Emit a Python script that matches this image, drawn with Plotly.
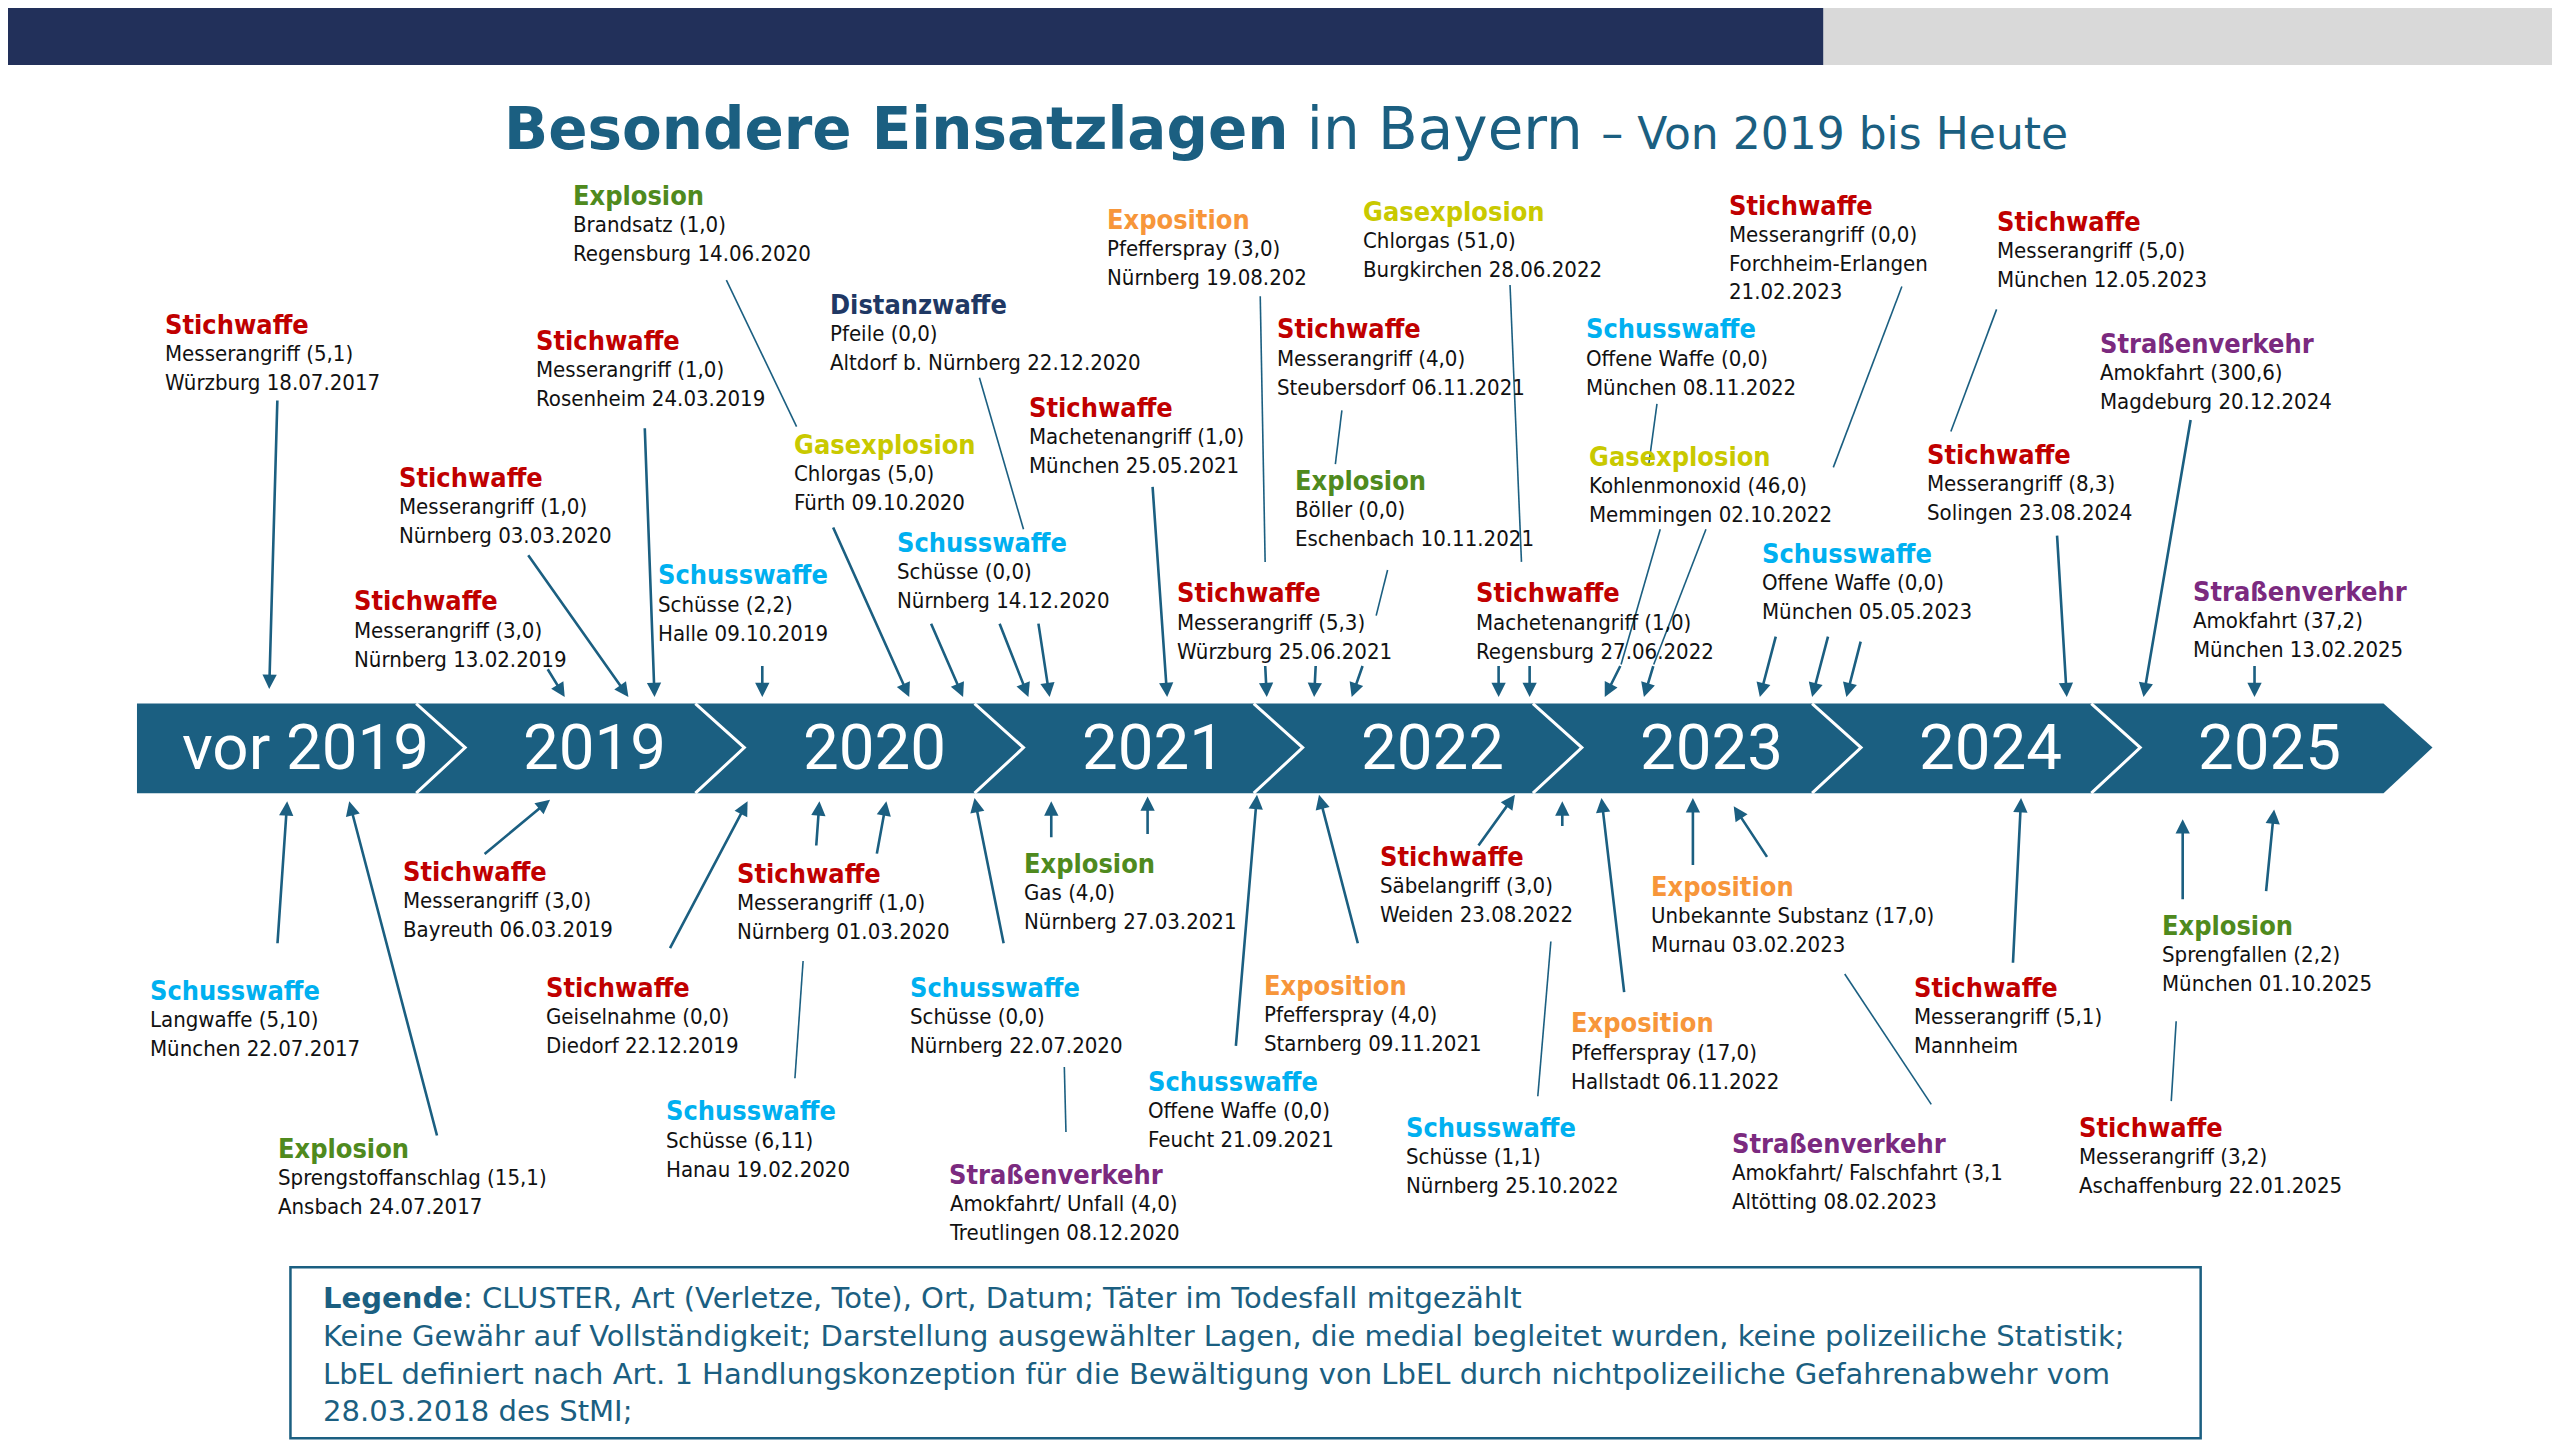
import plotly.graph_objects as go

# picture coordinates are in a 1568 x 887 frame, scaled to the 2560 x 1445 page
W, H = 1568, 887
S = 2560 / W

years = ["vor 2019", "2019", "2020", "2021", "2022", "2023", "2024", "2025"]

colors = {
    "Stichwaffe": "#c00000",
    "Schusswaffe": "#00b0f0",
    "Explosion": "#4f8a1e",
    "Gasexplosion": "#c9c900",
    "Exposition": "#f7963a",
    "Distanzwaffe": "#1f3864",
    "Straßenverkehr": "#7b2a7f",
}

# events: cluster, details
categories = [
    "Stichwaffe", "Explosion", "Stichwaffe", "Stichwaffe", "Stichwaffe", "Schusswaffe",
    "Distanzwaffe", "Gasexplosion", "Schusswaffe", "Exposition", "Stichwaffe",
    "Gasexplosion", "Stichwaffe", "Explosion", "Stichwaffe", "Schusswaffe",
    "Stichwaffe", "Stichwaffe", "Straßenverkehr", "Gasexplosion", "Stichwaffe",
    "Stichwaffe", "Schusswaffe", "Straßenverkehr",
    "Schusswaffe", "Explosion", "Stichwaffe", "Stichwaffe", "Stichwaffe", "Schusswaffe",
    "Schusswaffe", "Straßenverkehr", "Explosion", "Exposition", "Schusswaffe",
    "Stichwaffe", "Schusswaffe", "Exposition", "Exposition", "Straßenverkehr",
    "Stichwaffe", "Explosion", "Stichwaffe",
]
details = [
    ["Messerangriff (5,1)", "Würzburg 18.07.2017"],
    ["Brandsatz (1,0)", "Regensburg 14.06.2020"],
    ["Messerangriff (1,0)", "Rosenheim 24.03.2019"],
    ["Messerangriff (1,0)", "Nürnberg 03.03.2020"],
    ["Messerangriff (3,0)", "Nürnberg 13.02.2019"],
    ["Schüsse (2,2)", "Halle 09.10.2019"],
    ["Pfeile (0,0)", "Altdorf b. Nürnberg 22.12.2020"],
    ["Chlorgas (5,0)", "Fürth 09.10.2020"],
    ["Schüsse (0,0)", "Nürnberg 14.12.2020"],
    ["Pfefferspray (3,0)", "Nürnberg 19.08.202"],
    ["Machetenangriff (1,0)", "München 25.05.2021"],
    ["Chlorgas (51,0)", "Burgkirchen 28.06.2022"],
    ["Messerangriff (4,0)", "Steubersdorf 06.11.2021"],
    ["Böller (0,0)", "Eschenbach 10.11.2021"],
    ["Messerangriff (5,3)", "Würzburg 25.06.2021"],
    ["Offene Waffe (0,0)", "München 08.11.2022"],
    ["Messerangriff (0,0)", "Forchheim-Erlangen", "21.02.2023"],
    ["Messerangriff (5,0)", "München 12.05.2023"],
    ["Amokfahrt (300,6)", "Magdeburg 20.12.2024"],
    ["Kohlenmonoxid (46,0)", "Memmingen 02.10.2022"],
    ["Machetenangriff (1,0)", "Regensburg 27.06.2022"],
    ["Messerangriff (8,3)", "Solingen 23.08.2024"],
    ["Offene Waffe (0,0)", "München 05.05.2023"],
    ["Amokfahrt (37,2)", "München 13.02.2025"],
    ["Langwaffe (5,10)", "München 22.07.2017"],
    ["Sprengstoffanschlag (15,1)", "Ansbach 24.07.2017"],
    ["Messerangriff (3,0)", "Bayreuth 06.03.2019"],
    ["Geiselnahme (0,0)", "Diedorf 22.12.2019"],
    ["Messerangriff (1,0)", "Nürnberg 01.03.2020"],
    ["Schüsse (6,11)", "Hanau 19.02.2020"],
    ["Schüsse (0,0)", "Nürnberg 22.07.2020"],
    ["Amokfahrt/ Unfall (4,0)", "Treutlingen 08.12.2020"],
    ["Gas (4,0)", "Nürnberg 27.03.2021"],
    ["Pfefferspray (4,0)", "Starnberg 09.11.2021"],
    ["Offene Waffe (0,0)", "Feucht 21.09.2021"],
    ["Säbelangriff (3,0)", "Weiden 23.08.2022"],
    ["Schüsse (1,1)", "Nürnberg 25.10.2022"],
    ["Pfefferspray (17,0)", "Hallstadt 06.11.2022"],
    ["Unbekannte Substanz (17,0)", "Murnau 03.02.2023"],
    ["Amokfahrt/ Falschfahrt (3,1", "Altötting 08.02.2023"],
    ["Messerangriff (5,1)", "Mannheim"],
    ["Sprengfallen (2,2)", "München 01.10.2025"],
    ["Messerangriff (3,2)", "Aschaffenburg 22.01.2025"],
]

legend_lines = [
    "<b>Legende</b>: CLUSTER, Art (Verletze, Tote), Ort, Datum; Täter im Todesfall mitgezählt",
    "Keine Gewähr auf Vollständigkeit; Darstellung ausgewählter Lagen, die medial begleitet wurden, keine polizeiliche Statistik;",
    "LbEL definiert nach Art. 1 Handlungskonzeption für die Bewältigung von LbEL durch nichtpolizeiliche Gefahrenabwehr vom",
    "28.03.2018 des StMI;",
]

# layout: label anchor (left x, title y) per event
label_pos = [
    (100, 199), (350, 120), (327, 209), (243, 293), (216, 369), (402, 353),
    (507, 187), (485, 273), (548, 333), (677, 135), (629, 250),
    (834, 130), (781, 202), (792, 295), (720, 364), (970, 202),
    (1058, 126), (1222, 136), (1285, 211), (972, 280), (903, 364),
    (1179, 279), (1078, 340), (1342, 363),
    (91, 608), (169, 705), (246, 535), (333, 606), (450, 536), (407, 682),
    (556, 606), (580, 721), (626, 530), (773, 605), (702, 664),
    (844, 526), (860, 692), (961, 628), (1010, 544), (1060, 702),
    (1171, 606), (1323, 568), (1272, 692),
]
# arrows: (tail x, tail y, head x, head y)
arrows = [
    (170, 245, 165, 423), (395, 262, 401, 428), (323, 340, 385, 428), (335, 410, 346, 428),
    (467, 408, 467, 428), (510, 323, 557, 428), (570, 382, 590, 428), (612, 382, 630, 428),
    (636, 382, 643, 428), (706, 298, 715, 428), (775, 408, 776, 428), (806, 408, 805, 428),
    (835, 408, 828, 428), (918, 408, 918, 428), (937, 408, 937, 428), (993, 408, 983, 428),
    (1013, 408, 1007, 428), (1088, 390, 1078, 428), (1120, 390, 1110, 428),
    (1140, 393, 1131, 428), (1260, 328, 1266, 428), (1342, 257, 1313, 428),
    (1381, 408, 1381, 428),
    (170, 580, 176, 492), (268, 698, 214, 492), (296, 525, 337, 491), (410, 583, 458, 492),
    (500, 520, 502, 492), (537, 525, 543, 492), (615, 580, 597, 490), (644, 515, 644, 492),
    (703, 513, 703, 489), (832, 580, 808, 488), (757, 643, 770, 488), (905, 520, 928, 488),
    (957, 508, 957, 492), (995, 610, 981, 490), (1037, 532, 1037, 490), (1083, 527, 1062, 495),
    (1233, 592, 1238, 490), (1337, 553, 1337, 503), (1388, 548, 1393, 497),
]
# plain connector lines
connectors = [
    (445, 172, 488, 262), (600, 232, 627, 325), (772, 182, 775, 345), (925, 175, 932, 345),
    (822, 252, 818, 285), (850, 350, 843, 378), (1015, 248, 1010, 285), (1165, 176, 1123, 287),
    (1223, 190, 1195, 265), (1017, 325, 993, 408), (1045, 325, 1013, 408),
    (492, 590, 487, 662), (653, 695, 652, 655), (942, 673, 950, 578), (1183, 678, 1130, 598),
    (1330, 676, 1333, 627),
]

BLUE = "#1b5f81"
FONT = "DejaVu Sans Condensed, Liberation Sans Narrow, Roboto"

fig = go.Figure()
shapes = []
ann = []

# header bars
shapes.append(dict(type="rect", x0=-10, x1=1117, y0=-10, y1=40, fillcolor="#22305a", line_width=0))
shapes.append(dict(type="rect", x0=1117, x1=W + 10, y0=-10, y1=40, fillcolor="#d9d9d9", line_width=0))

# timeline band
shapes.append(dict(type="path", path="M 84 432 L 1460 432 L 1490 459 L 1460 487 L 84 487 Z",
                   fillcolor=BLUE, line_width=0))
seg = 171
for i in range(1, len(years)):
    x = 84 + i * seg
    shapes.append(dict(type="path", path=f"M {x} 432 L {x+30} 459 L {x} 487",
                       line=dict(color="white", width=3)))
for i, y in enumerate(years):
    cx = 187 if i == 0 else 84 + seg * (i + 0.64)
    ann.append(dict(x=cx, y=459, text=y, showarrow=False,
                    font=dict(family="Roboto", size=39 * S, color="white")))

# title
ann.append(dict(x=788, y=79, showarrow=False,
                text="<b>Besondere Einsatzlagen</b> in Bayern <span style='font-size:%dpx'>– Von 2019 bis Heute</span>" % int(27.5 * S),
                font=dict(family="DejaVu Sans", size=35.5 * S, color=BLUE)))

for (x0, y0, x1, y1) in connectors:
    shapes.append(dict(type="line", x0=x0, y0=y0, x1=x1, y1=y1, line=dict(color=BLUE, width=1.6)))

for (tx, ty, hx, hy) in arrows:
    ann.append(dict(x=hx, y=hy, ax=tx, ay=ty, axref="x", ayref="y", text="", showarrow=True,
                    arrowhead=2, arrowsize=1.1, arrowwidth=2.6, arrowcolor=BLUE))

for cat, det, (x, y) in zip(categories, details, label_pos):
    ann.append(dict(x=x, y=y, xanchor="left", yanchor="middle", showarrow=False,
                    text="<b>%s</b>" % cat, font=dict(family=FONT, size=16.5 * S, color=colors[cat])))
    ann.append(dict(x=x, y=y + 9, xanchor="left", yanchor="top", showarrow=False, align="left",
                    text="<br>".join(det), font=dict(family=FONT, size=13.5 * S, color="#111111")))

# legend box
shapes.append(dict(type="rect", x0=178, x1=1348, y0=778, y1=883, line=dict(color=BLUE, width=2.5)))
ann.append(dict(x=197, y=785, xanchor="left", yanchor="top", showarrow=False, align="left",
                text="<br>".join(legend_lines), font=dict(family="DejaVu Sans", size=17.8 * S, color=BLUE)))

# offset compensates for the page margin around the plot
fig.update_layout(
    width=2560, height=1445, margin=dict(l=0, r=0, t=0, b=0),
    plot_bgcolor="white", paper_bgcolor="white", showlegend=False,
    xaxis=dict(range=[5, W + 5], visible=False, fixedrange=True),
    yaxis=dict(range=[H + 5, 5], visible=False, fixedrange=True),
    shapes=shapes, annotations=ann,
)
fig.write_html("out.html")
